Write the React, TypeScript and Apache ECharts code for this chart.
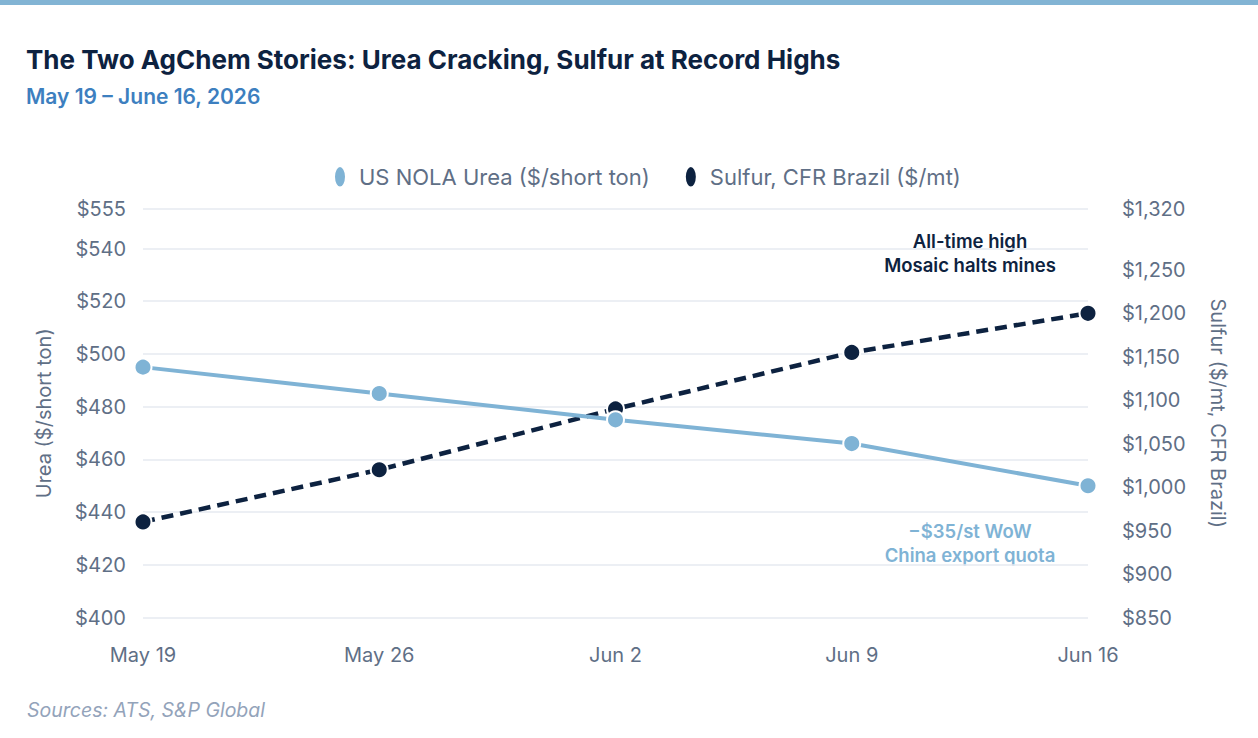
import React, { useEffect, useRef } from "react";
import * as echarts from "echarts";

// Weekly price observations
const weeks = ["May 19", "May 26", "Jun 2", "Jun 9", "Jun 16"];
const ureaNola = [495, 485, 475, 466, 450]; // $/short ton
const sulfurBrazil = [960, 1020, 1090, 1155, 1200]; // $/mt, CFR Brazil

// Left axis: $400..$555, right axis: $850..$1,320
const ureaAxis = { min: 400, max: 555, interval: 20 };
const sulfurAxis = { min: 850, max: 1320, interval: 50 };
const sulfurTicks = [850, 900, 950, 1000, 1050, 1100, 1150, 1200, 1250, 1320];

const NAVY = "#0d2240";
const LIGHT_BLUE = "#7fb3d5";
const AXIS_TEXT = "#5f6f86";
const FONT = "Inter, 'Noto Sans', sans-serif";
const ELLIPSE = "path://M5,0 A5,9 0 1,1 5,18 A5,9 0 1,1 5,0 Z";

const money = (v: number) => "$" + v.toLocaleString("en-US");

export default function App() {
  const ref = useRef<HTMLDivElement>(null);

  useEffect(() => {
    if (!ref.current) return;
    const chart = echarts.init(ref.current, undefined, { renderer: "svg" });
    chart.setOption({
      animation: false,
      backgroundColor: "#ffffff",
      textStyle: { fontFamily: FONT },
      title: [
        {
          text: "The Two AgChem Stories: Urea Cracking, Sulfur at Record Highs",
          left: 21,
          top: 41,
          textStyle: { fontFamily: FONT, fontSize: 26, fontWeight: 700, color: NAVY },
        },
        {
          text: "May 19 – June 16, 2026",
          left: 21,
          top: 81,
          textStyle: { fontFamily: FONT, fontSize: 21, fontWeight: 600, color: "#3d7fbf" },
        },
      ],
      legend: {
        top: 160,
        left: 328,
        itemWidth: 12,
        itemHeight: 22,
        itemGap: 34,
        textStyle: { fontFamily: FONT, fontSize: 22, color: AXIS_TEXT, padding: [0, 0, 0, 8] },
        data: [
          { name: "US NOLA Urea ($/short ton)", icon: ELLIPSE },
          { name: "Sulfur, CFR Brazil ($/mt)", icon: ELLIPSE },
        ],
      },
      grid: { left: 143, right: 170, top: 209, bottom: 120.5 },
      xAxis: {
        type: "category",
        data: weeks,
        boundaryGap: false,
        axisLine: { show: false },
        axisTick: { show: false },
        axisLabel: { fontFamily: FONT, fontSize: 20, color: AXIS_TEXT, margin: 27 },
      },
      yAxis: [
        {
          type: "value",
          position: "left",
          min: ureaAxis.min,
          max: ureaAxis.max,
          interval: ureaAxis.interval,
          showMaxLabel: true,
          name: "Urea ($/short ton)",
          nameLocation: "middle",
          nameGap: 89,
          nameTextStyle: { fontFamily: FONT, fontSize: 20, color: AXIS_TEXT },
          axisLine: { show: false },
          axisTick: { show: false },
          axisLabel: { fontFamily: FONT, fontSize: 20, color: AXIS_TEXT, margin: 17, formatter: money },
          splitLine: { show: true, lineStyle: { color: "#e6eaf1", width: 1.5 } },
        },
        {
          type: "value",
          position: "right",
          min: sulfurAxis.min,
          max: sulfurAxis.max,
          interval: sulfurAxis.interval,
          name: "Sulfur ($/mt, CFR Brazil)",
          nameLocation: "middle",
          nameGap: 120,
          nameRotate: -90,
          nameTextStyle: { fontFamily: FONT, fontSize: 20, color: AXIS_TEXT },
          axisLine: { show: false },
          axisTick: { show: false },
          axisLabel: {
            fontFamily: FONT,
            fontSize: 20,
            color: AXIS_TEXT,
            margin: 34,
            formatter: money,
            customValues: sulfurTicks,
          },
          splitLine: { show: false },
        },
      ],
      series: [
        {
          name: "US NOLA Urea ($/short ton)",
          type: "line",
          yAxisIndex: 0,
          data: ureaNola,
          z: 3,
          symbol: "circle",
          symbolSize: 17,
          color: LIGHT_BLUE,
          lineStyle: { color: LIGHT_BLUE, width: 4 },
          itemStyle: { color: LIGHT_BLUE, borderColor: "#ffffff", borderWidth: 2 },
        },
        {
          name: "Sulfur, CFR Brazil ($/mt)",
          type: "line",
          yAxisIndex: 1,
          data: sulfurBrazil,
          z: 2,
          symbol: "circle",
          symbolSize: 17,
          color: NAVY,
          lineStyle: { color: NAVY, width: 4.5, type: [12, 7] },
          itemStyle: { color: NAVY, borderColor: "#ffffff", borderWidth: 2 },
        },
      ],
      graphic: [
        {
          type: "rect",
          left: 0,
          top: 0,
          shape: { width: 1258, height: 5 },
          style: { fill: "#82b4d4" },
        },
        {
          type: "text",
          x: 970,
          y: 253,
          style: {
            text: "All-time high\nMosaic halts mines",
            fontFamily: FONT,
            fontSize: 18.5,
            fontWeight: 600,
            lineHeight: 24,
            fill: NAVY,
            align: "center",
            verticalAlign: "middle",
          },
        },
        {
          type: "text",
          x: 970,
          y: 543,
          style: {
            text: "−$35/st WoW\nChina export quota",
            fontFamily: FONT,
            fontSize: 18.5,
            fontWeight: 600,
            lineHeight: 24,
            fill: LIGHT_BLUE,
            align: "center",
            verticalAlign: "middle",
          },
        },
        {
          type: "text",
          x: 27,
          y: 710,
          style: {
            text: "Sources: ATS, S&P Global",
            fontFamily: FONT,
            fontSize: 19.5,
            fontStyle: "italic",
            fill: "#93a3ba",
            verticalAlign: "middle",
          },
        },
      ],
    });
    return () => chart.dispose();
  }, []);

  return (
    <div
      ref={ref}
      style={{ position: "fixed", left: 0, top: 0, width: 1258, height: 738, background: "#fff" }}
    />
  );
}
